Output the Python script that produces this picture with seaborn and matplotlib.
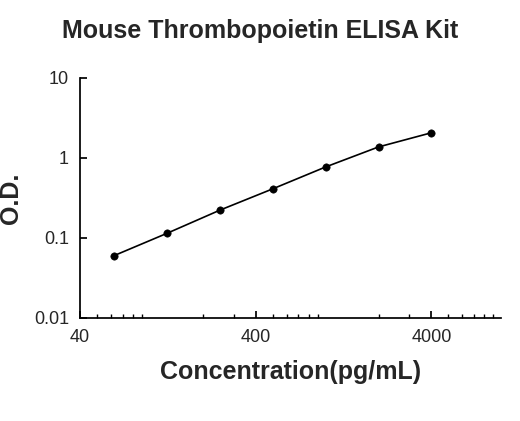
import matplotlib
matplotlib.use("Agg")
import matplotlib.pyplot as plt
import matplotlib.ticker as mticker
import pandas as pd
import seaborn as sns

concentration = [62.5, 125, 250, 500, 1000, 2000, 4000]
od = [0.060, 0.114, 0.222, 0.41, 0.77, 1.37, 2.06]
x_ticks = [40, 400, 4000]
y_ticks = [0.01, 0.1, 1, 10]
y_labels = ["0.01", "0.1", "1", "10"]

sns.set_theme(style="ticks")
plt.rcParams["font.family"] = ["Liberation Sans", "DejaVu Sans"]

frame = pd.DataFrame({"conc": concentration, "od": od})
fig = plt.figure(figsize=(5.2, 4.21), dpi=100)
ax = fig.add_axes([0.154, 0.245, 0.81, 0.57])
sns.lineplot(data=frame, x="conc", y="od", color="black", linewidth=1.2, ax=ax)
sns.scatterplot(data=frame, x="conc", y="od", color="black", s=28, edgecolor="black", ax=ax, zorder=3)
ax.set_xscale("log")
ax.set_yscale("log")
ax.set_xlim(40, 10000)
ax.set_ylim(0.01, 10)
ax.set_xticks(x_ticks)
ax.xaxis.set_major_formatter(mticker.FixedFormatter([str(t) for t in x_ticks]))
ax.xaxis.set_minor_locator(mticker.LogLocator(base=10, subs=range(2, 10)))
ax.xaxis.set_minor_formatter(mticker.NullFormatter())
ax.set_yticks(y_ticks)
ax.set_yticklabels(y_labels)
ax.yaxis.set_minor_locator(mticker.NullLocator())
ax.tick_params(axis="both", which="major", labelsize=13, direction="in", length=5, color="black", pad=8)
ax.tick_params(axis="x", which="minor", direction="in", length=3, color="black")
for side in ("top", "right"):
    ax.spines[side].set_visible(False)
for side in ("left", "bottom"):
    ax.spines[side].set_color("black")
ax.set_xlabel("Concentration(pg/mL)", fontsize=18, fontweight="bold", labelpad=10)
ax.set_ylabel("O.D.", fontsize=18, fontweight="bold", labelpad=8)
fig.suptitle("Mouse Thrombopoietin ELISA Kit", fontsize=18, fontweight="bold", y=0.955)
fig.savefig("out.png", dpi=100)
